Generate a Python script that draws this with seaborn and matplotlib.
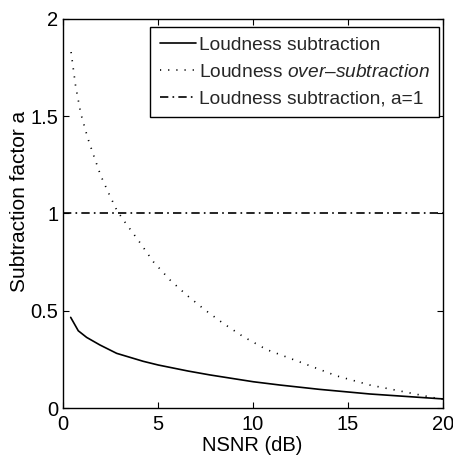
import matplotlib
matplotlib.use("Agg")
import matplotlib.pyplot as plt
import seaborn as sns
import pandas as pd

# ---- data ----
nsnr_sub = [0.42, 0.82, 1.26, 1.96, 2.84, 4.24, 5.03, 6.6, 7.75, 10.03, 11.44, 13.5, 16.17, 19.8, 20.0]
alpha_sub = [0.466, 0.397, 0.363, 0.324, 0.281, 0.240, 0.221, 0.19, 0.17, 0.135, 0.118, 0.096, 0.072, 0.048, 0.047]

nsnr_over = [0.44, 0.68, 0.95, 1.32, 1.66, 2.0, 2.44, 2.84, 3.19, 4.03, 4.77, 5.65, 6.53, 7.49,
             8.45, 9.5, 10.74, 12.66, 14.42, 16.17, 17.93, 19.68, 20.0]
alpha_over = [1.83, 1.655, 1.515, 1.387, 1.29, 1.195, 1.10, 1.018, 0.967, 0.855, 0.752, 0.658, 0.58, 0.504,
              0.435, 0.367, 0.30, 0.23, 0.165, 0.118, 0.084, 0.05, 0.045]

nsnr_one = [0.0, 20.0]
alpha_one = [1.0, 1.0]

labels = ["Loudness subtraction",
          r"Loudness $\mathit{over–subtraction}$",
          "Loudness subtraction, a=1"]
x_ticks = [0, 5, 10, 15, 20]
y_ticks = [0, 0.5, 1, 1.5, 2]
y_tick_labels = ["0", "0.5", "1", "1.5", "2"]

sns.set_theme(style="ticks")
plt.rcParams["font.family"] = ["Liberation Sans", "DejaVu Sans"]
plt.rcParams["mathtext.fontset"] = "custom"
plt.rcParams["mathtext.rm"] = "Liberation Sans"
plt.rcParams["mathtext.it"] = "Liberation Sans:italic"

FS_TICK = 14.5
FS_LEG = 13.8
fig = plt.figure(figsize=(4.53, 4.65), dpi=100)
ax = fig.add_axes([62.7 / 453, 57 / 465, 380 / 453, 389 / 465])

series = [
    (nsnr_sub, alpha_sub, labels[0], "-"),
    (nsnr_over, alpha_over, labels[1], (0, (0.7, 4.2))),
    (nsnr_one, alpha_one, labels[2], (0, (5, 2.5, 1, 2.5))),
]
for xs, ys, lab, ls in series:
    df = pd.DataFrame({"x": xs, "y": ys})
    sns.lineplot(data=df, x="x", y="y", ax=ax, color="black", linewidth=1.2,
                 linestyle=ls, label=lab, estimator=None, sort=False)

ax.set_xlim(0, 20)
ax.set_ylim(0, 2)
ax.set_xticks(x_ticks)
ax.set_xticklabels([str(t) for t in x_ticks])
ax.set_yticks(y_ticks)
ax.set_yticklabels(y_tick_labels)
ax.tick_params(direction="in", length=4, width=0.8, top=True, right=True,
               labelsize=FS_TICK, colors="black")
ax.tick_params(axis="x", pad=5)
ax.tick_params(axis="y", pad=3)
for s in ax.spines.values():
    s.set_visible(True)
    s.set_color("black")
    s.set_linewidth(1.0)
ax.set_xlabel("NSNR (dB)", fontsize=FS_TICK, color="black")
ax.set_ylabel("Subtraction factor a", fontsize=15, color="black")
ax.xaxis.set_label_coords(0.4995, -0.072)
ax.yaxis.set_label_coords(-0.0876, 0.531)

leg = ax.legend(loc="upper right", bbox_to_anchor=(0.9911, 0.9802), borderaxespad=0,
                fontsize=FS_LEG, frameon=True, fancybox=False, shadow=False, framealpha=1,
                edgecolor="black", handlelength=1.85, handletextpad=0.18,
                labelspacing=0.49, borderpad=0.5)
leg.get_frame().set_linewidth(1.0)

fig.savefig("out.png", dpi=100)
